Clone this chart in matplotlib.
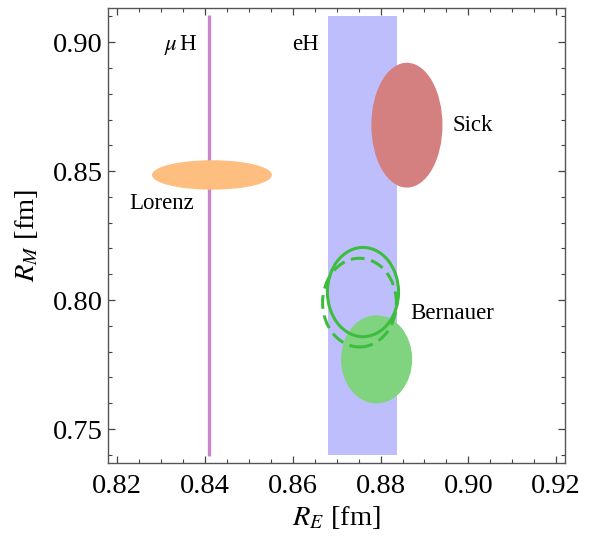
import matplotlib
matplotlib.use("Agg")
import matplotlib.pyplot as plt
from matplotlib.patches import Ellipse, Rectangle
from matplotlib.ticker import MultipleLocator, FormatStrFormatter

plt.rcParams['font.family'] = ['Liberation Serif', 'DejaVu Serif']
plt.rcParams['mathtext.fontset'] = 'stix'

# muonic hydrogen line (R_E) and e-H band
muH_x = 0.8409
muH_y = [0.7395, 0.9104]
eH_x = [0.8680, 0.8837]
eH_y = [0.7399, 0.9102]

# filled ellipses: name, centre, full widths
fill_names = ["Lorenz", "Sick", "Bernauer"]
fill_cx = [0.8416, 0.8860, 0.8791]
fill_cy = [0.8485, 0.8678, 0.7770]
fill_w = [0.0273, 0.0162, 0.0162]
fill_h = [0.0114, 0.0484, 0.0342]
fill_colors = ["#fdbe80", "#d47f80", "#80d480"]

# outline ellipses (Bernauer variants)
line_cx = [0.8760, 0.8752]
line_cy = [0.8031, 0.7990]
line_w = [0.0162, 0.0168]
line_h = [0.0346, 0.0344]
line_styles = ["-", (0, (4.5, 2.2))]

# labels
label_text = [r"$\mu\,$H", "eH", "Sick", "Lorenz", "Bernauer"]
label_x = [0.8345, 0.8628, 0.8964, 0.8228, 0.8867]
label_y = [0.8990, 0.8990, 0.8678, 0.8375, 0.7948]
label_ha = ["center", "center", "left", "left", "left"]

fig = plt.figure(figsize=(6.04, 5.40), dpi=100)
ax = fig.add_axes([0.1793, 0.142, 0.9354 - 0.1793, 0.986 - 0.142])

ax.add_patch(Rectangle((eH_x[0], eH_y[0]), eH_x[1] - eH_x[0], eH_y[1] - eH_y[0],
                       facecolor="#bebefc", edgecolor="none", zorder=1))
ax.plot([muH_x, muH_x], muH_y, color="#c985c9", lw=2.4, solid_capstyle="butt", zorder=2)

for cx, cy, w, h, c in zip(fill_cx, fill_cy, fill_w, fill_h, fill_colors):
    ax.add_patch(Ellipse((cx, cy), w, h, facecolor=c, edgecolor="none", zorder=3))

for cx, cy, w, h, ls in zip(line_cx, line_cy, line_w, line_h, line_styles):
    ax.add_patch(Ellipse((cx, cy), w, h, facecolor="none", edgecolor="#3cbe3c",
                         lw=2.2, linestyle=ls, zorder=4))

for t, x, y, ha in zip(label_text, label_x, label_y, label_ha):
    ax.text(x, y, t, ha=ha, va="center", fontsize=16.5, color="black", zorder=5)

ax.set_xlim(0.818, 0.922)
ax.set_ylim(0.7367, 0.9134)
ax.xaxis.set_major_locator(MultipleLocator(0.02))
ax.xaxis.set_minor_locator(MultipleLocator(0.005))
ax.yaxis.set_major_locator(MultipleLocator(0.05))
ax.yaxis.set_minor_locator(MultipleLocator(0.01))
ax.xaxis.set_major_formatter(FormatStrFormatter("%.2f"))
ax.yaxis.set_major_formatter(FormatStrFormatter("%.2f"))
ax.tick_params(which="both", direction="in", top=True, right=True,
               color="#444444", labelsize=20.5)
ax.tick_params(which="major", length=5, width=0.9)
ax.tick_params(which="minor", length=3, width=0.8)
ax.tick_params(axis="x", which="major", pad=8)
ax.tick_params(axis="y", which="major", pad=4)
for s in ax.spines.values():
    s.set_color("#555555")
    s.set_linewidth(1.0)

ax.set_xlabel(r"$R_E$ [fm]", fontsize=20.5, labelpad=3)
ax.set_ylabel(r"$R_M$ [fm]", fontsize=20.5, labelpad=9)

fig.savefig("out.png", dpi=100)
